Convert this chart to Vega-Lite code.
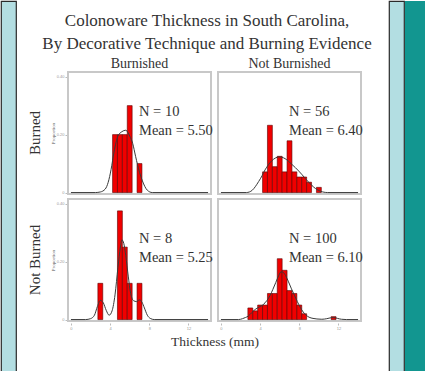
{
  "$schema": "https://vega.github.io/schema/vega-lite/v6.json",
  "background": "white",
  "padding": 0,
  "spacing": 16,
  "hconcat": [
    {
      "spacing": 11,
      "hconcat": [
        {
          "width": 15, "height": 371,
          "data": {"values": []},
          "mark": {"type": "text"},
          "encoding": {},
          "view": {"fill": "#b3dee2", "stroke": "#2a2a2a", "strokeWidth": 1.2}
        },
        {
          "spacing": 5,
          "vconcat": [
            {
              "width": 278, "height": 30,
              "data": {"values": [{"t": "Colonoware Thickness in South Carolina,\nBy Decorative Technique and Burning Evidence"}]},
              "mark": {"type": "text", "font": "Liberation Serif", "fontSize": 17, "color": "#333333",
                       "lineHeight": 23, "lineBreak": "\n", "align": "center", "baseline": "middle", "dy": 5},
              "encoding": {"text": {"field": "t", "type": "nominal"}},
              "view": {"stroke": null}
            },
            {
              "data": {"values": [
                {"r": "Burned", "c": "Burnished", "k": "bar", "lo": 4.25, "hi": 4.75, "p": 0.2},
                {"r": "Burned", "c": "Burnished", "k": "bar", "lo": 4.75, "hi": 5.25, "p": 0.2},
                {"r": "Burned", "c": "Burnished", "k": "bar", "lo": 5.25, "hi": 5.75, "p": 0.2},
                {"r": "Burned", "c": "Burnished", "k": "bar", "lo": 5.75, "hi": 6.25, "p": 0.3},
                {"r": "Burned", "c": "Burnished", "k": "bar", "lo": 6.75, "hi": 7.25, "p": 0.1},

                {"r": "Burned", "c": "Not Burnished", "k": "bar", "lo": 4.25, "hi": 4.75, "p": 0.0714},
                {"r": "Burned", "c": "Not Burnished", "k": "bar", "lo": 4.75, "hi": 5.25, "p": 0.2321},
                {"r": "Burned", "c": "Not Burnished", "k": "bar", "lo": 5.25, "hi": 5.75, "p": 0.0893},
                {"r": "Burned", "c": "Not Burnished", "k": "bar", "lo": 5.75, "hi": 6.25, "p": 0.125},
                {"r": "Burned", "c": "Not Burnished", "k": "bar", "lo": 6.25, "hi": 6.75, "p": 0.0714},
                {"r": "Burned", "c": "Not Burnished", "k": "bar", "lo": 6.75, "hi": 7.25, "p": 0.1786},
                {"r": "Burned", "c": "Not Burnished", "k": "bar", "lo": 7.25, "hi": 7.75, "p": 0.0714},
                {"r": "Burned", "c": "Not Burnished", "k": "bar", "lo": 7.75, "hi": 8.25, "p": 0.0536},
                {"r": "Burned", "c": "Not Burnished", "k": "bar", "lo": 8.25, "hi": 8.75, "p": 0.0536},
                {"r": "Burned", "c": "Not Burnished", "k": "bar", "lo": 8.75, "hi": 9.25, "p": 0.0357},
                {"r": "Burned", "c": "Not Burnished", "k": "bar", "lo": 9.75, "hi": 10.25, "p": 0.0179},

                {"r": "Not Burned", "c": "Burnished", "k": "bar", "lo": 2.75, "hi": 3.25, "p": 0.125},
                {"r": "Not Burned", "c": "Burnished", "k": "bar", "lo": 4.75, "hi": 5.25, "p": 0.375},
                {"r": "Not Burned", "c": "Burnished", "k": "bar", "lo": 5.25, "hi": 5.75, "p": 0.25},
                {"r": "Not Burned", "c": "Burnished", "k": "bar", "lo": 5.75, "hi": 6.25, "p": 0.125},
                {"r": "Not Burned", "c": "Burnished", "k": "bar", "lo": 6.75, "hi": 7.25, "p": 0.125},

                {"r": "Not Burned", "c": "Not Burnished", "k": "bar", "lo": 2.75, "hi": 3.25, "p": 0.04},
                {"r": "Not Burned", "c": "Not Burnished", "k": "bar", "lo": 3.25, "hi": 3.75, "p": 0.03},
                {"r": "Not Burned", "c": "Not Burnished", "k": "bar", "lo": 3.75, "hi": 4.25, "p": 0.05},
                {"r": "Not Burned", "c": "Not Burnished", "k": "bar", "lo": 4.25, "hi": 4.75, "p": 0.05},
                {"r": "Not Burned", "c": "Not Burnished", "k": "bar", "lo": 4.75, "hi": 5.25, "p": 0.09},
                {"r": "Not Burned", "c": "Not Burnished", "k": "bar", "lo": 5.25, "hi": 5.75, "p": 0.09},
                {"r": "Not Burned", "c": "Not Burnished", "k": "bar", "lo": 5.75, "hi": 6.25, "p": 0.21},
                {"r": "Not Burned", "c": "Not Burnished", "k": "bar", "lo": 6.25, "hi": 6.75, "p": 0.17},
                {"r": "Not Burned", "c": "Not Burnished", "k": "bar", "lo": 6.75, "hi": 7.25, "p": 0.10},
                {"r": "Not Burned", "c": "Not Burnished", "k": "bar", "lo": 7.25, "hi": 7.75, "p": 0.09},
                {"r": "Not Burned", "c": "Not Burnished", "k": "bar", "lo": 7.75, "hi": 8.25, "p": 0.05},
                {"r": "Not Burned", "c": "Not Burnished", "k": "bar", "lo": 8.25, "hi": 8.75, "p": 0.02},
                {"r": "Not Burned", "c": "Not Burnished", "k": "bar", "lo": 11.25, "hi": 11.75, "p": 0.01},

                {"r": "Burned", "c": "Burnished", "k": "curve", "lo": 0, "p": 0},
                {"r": "Burned", "c": "Burnished", "k": "curve", "lo": 2.5, "p": 0},
                {"r": "Burned", "c": "Burnished", "k": "curve", "lo": 3.0, "p": 0.002},
                {"r": "Burned", "c": "Burnished", "k": "curve", "lo": 3.5, "p": 0.012},
                {"r": "Burned", "c": "Burnished", "k": "curve", "lo": 3.8, "p": 0.035},
                {"r": "Burned", "c": "Burnished", "k": "curve", "lo": 4.1, "p": 0.08},
                {"r": "Burned", "c": "Burnished", "k": "curve", "lo": 4.4, "p": 0.14},
                {"r": "Burned", "c": "Burnished", "k": "curve", "lo": 4.8, "p": 0.195},
                {"r": "Burned", "c": "Burnished", "k": "curve", "lo": 5.2, "p": 0.21},
                {"r": "Burned", "c": "Burnished", "k": "curve", "lo": 5.6, "p": 0.215},
                {"r": "Burned", "c": "Burnished", "k": "curve", "lo": 6.0, "p": 0.195},
                {"r": "Burned", "c": "Burnished", "k": "curve", "lo": 6.3, "p": 0.17},
                {"r": "Burned", "c": "Burnished", "k": "curve", "lo": 6.6, "p": 0.125},
                {"r": "Burned", "c": "Burnished", "k": "curve", "lo": 7.0, "p": 0.07},
                {"r": "Burned", "c": "Burnished", "k": "curve", "lo": 7.3, "p": 0.04},
                {"r": "Burned", "c": "Burnished", "k": "curve", "lo": 7.8, "p": 0.008},
                {"r": "Burned", "c": "Burnished", "k": "curve", "lo": 8.3, "p": 0},
                {"r": "Burned", "c": "Burnished", "k": "curve", "lo": 14, "p": 0},

                {"r": "Burned", "c": "Not Burnished", "k": "curve", "lo": 0, "p": 0},
                {"r": "Burned", "c": "Not Burnished", "k": "curve", "lo": 2.6, "p": 0},
                {"r": "Burned", "c": "Not Burnished", "k": "curve", "lo": 2.9, "p": 0.002},
                {"r": "Burned", "c": "Not Burnished", "k": "curve", "lo": 3.2, "p": 0.008},
                {"r": "Burned", "c": "Not Burnished", "k": "curve", "lo": 3.5, "p": 0.02},
                {"r": "Burned", "c": "Not Burnished", "k": "curve", "lo": 3.85, "p": 0.038},
                {"r": "Burned", "c": "Not Burnished", "k": "curve", "lo": 4.2, "p": 0.058},
                {"r": "Burned", "c": "Not Burnished", "k": "curve", "lo": 4.5, "p": 0.078},
                {"r": "Burned", "c": "Not Burnished", "k": "curve", "lo": 4.85, "p": 0.096},
                {"r": "Burned", "c": "Not Burnished", "k": "curve", "lo": 5.2, "p": 0.11},
                {"r": "Burned", "c": "Not Burnished", "k": "curve", "lo": 5.55, "p": 0.119},
                {"r": "Burned", "c": "Not Burnished", "k": "curve", "lo": 5.9, "p": 0.123},
                {"r": "Burned", "c": "Not Burnished", "k": "curve", "lo": 6.2, "p": 0.122},
                {"r": "Burned", "c": "Not Burnished", "k": "curve", "lo": 6.55, "p": 0.117},
                {"r": "Burned", "c": "Not Burnished", "k": "curve", "lo": 6.9, "p": 0.108},
                {"r": "Burned", "c": "Not Burnished", "k": "curve", "lo": 7.25, "p": 0.097},
                {"r": "Burned", "c": "Not Burnished", "k": "curve", "lo": 7.6, "p": 0.086},
                {"r": "Burned", "c": "Not Burnished", "k": "curve", "lo": 7.95, "p": 0.074},
                {"r": "Burned", "c": "Not Burnished", "k": "curve", "lo": 8.3, "p": 0.061},
                {"r": "Burned", "c": "Not Burnished", "k": "curve", "lo": 8.6, "p": 0.049},
                {"r": "Burned", "c": "Not Burnished", "k": "curve", "lo": 8.95, "p": 0.036},
                {"r": "Burned", "c": "Not Burnished", "k": "curve", "lo": 9.3, "p": 0.024},
                {"r": "Burned", "c": "Not Burnished", "k": "curve", "lo": 9.65, "p": 0.014},
                {"r": "Burned", "c": "Not Burnished", "k": "curve", "lo": 10.0, "p": 0.007},
                {"r": "Burned", "c": "Not Burnished", "k": "curve", "lo": 10.4, "p": 0.002},
                {"r": "Burned", "c": "Not Burnished", "k": "curve", "lo": 10.9, "p": 0},
                {"r": "Burned", "c": "Not Burnished", "k": "curve", "lo": 14, "p": 0},

                {"r": "Not Burned", "c": "Burnished", "k": "curve", "lo": 0, "p": 0},
                {"r": "Not Burned", "c": "Burnished", "k": "curve", "lo": 1.5, "p": 0},
                {"r": "Not Burned", "c": "Burnished", "k": "curve", "lo": 2.0, "p": 0.003},
                {"r": "Not Burned", "c": "Burnished", "k": "curve", "lo": 2.4, "p": 0.015},
                {"r": "Not Burned", "c": "Burnished", "k": "curve", "lo": 2.7, "p": 0.045},
                {"r": "Not Burned", "c": "Burnished", "k": "curve", "lo": 3.0, "p": 0.066},
                {"r": "Not Burned", "c": "Burnished", "k": "curve", "lo": 3.3, "p": 0.058},
                {"r": "Not Burned", "c": "Burnished", "k": "curve", "lo": 3.6, "p": 0.032},
                {"r": "Not Burned", "c": "Burnished", "k": "curve", "lo": 3.9, "p": 0.015},
                {"r": "Not Burned", "c": "Burnished", "k": "curve", "lo": 4.2, "p": 0.03},
                {"r": "Not Burned", "c": "Burnished", "k": "curve", "lo": 4.5, "p": 0.085},
                {"r": "Not Burned", "c": "Burnished", "k": "curve", "lo": 4.8, "p": 0.18},
                {"r": "Not Burned", "c": "Burnished", "k": "curve", "lo": 5.05, "p": 0.25},
                {"r": "Not Burned", "c": "Burnished", "k": "curve", "lo": 5.2, "p": 0.275},
                {"r": "Not Burned", "c": "Burnished", "k": "curve", "lo": 5.4, "p": 0.262},
                {"r": "Not Burned", "c": "Burnished", "k": "curve", "lo": 5.6, "p": 0.22},
                {"r": "Not Burned", "c": "Burnished", "k": "curve", "lo": 5.85, "p": 0.15},
                {"r": "Not Burned", "c": "Burnished", "k": "curve", "lo": 6.1, "p": 0.09},
                {"r": "Not Burned", "c": "Burnished", "k": "curve", "lo": 6.4, "p": 0.065},
                {"r": "Not Burned", "c": "Burnished", "k": "curve", "lo": 6.7, "p": 0.062},
                {"r": "Not Burned", "c": "Burnished", "k": "curve", "lo": 7.0, "p": 0.068},
                {"r": "Not Burned", "c": "Burnished", "k": "curve", "lo": 7.25, "p": 0.06},
                {"r": "Not Burned", "c": "Burnished", "k": "curve", "lo": 7.5, "p": 0.04},
                {"r": "Not Burned", "c": "Burnished", "k": "curve", "lo": 7.8, "p": 0.015},
                {"r": "Not Burned", "c": "Burnished", "k": "curve", "lo": 8.1, "p": 0.004},
                {"r": "Not Burned", "c": "Burnished", "k": "curve", "lo": 8.5, "p": 0},
                {"r": "Not Burned", "c": "Burnished", "k": "curve", "lo": 14, "p": 0},

                {"r": "Not Burned", "c": "Not Burnished", "k": "curve", "lo": 0, "p": 0},
                {"r": "Not Burned", "c": "Not Burnished", "k": "curve", "lo": 1.8, "p": 0},
                {"r": "Not Burned", "c": "Not Burnished", "k": "curve", "lo": 2.2, "p": 0.003},
                {"r": "Not Burned", "c": "Not Burnished", "k": "curve", "lo": 2.5, "p": 0.007},
                {"r": "Not Burned", "c": "Not Burnished", "k": "curve", "lo": 2.8, "p": 0.012},
                {"r": "Not Burned", "c": "Not Burnished", "k": "curve", "lo": 3.15, "p": 0.024},
                {"r": "Not Burned", "c": "Not Burnished", "k": "curve", "lo": 3.5, "p": 0.035},
                {"r": "Not Burned", "c": "Not Burnished", "k": "curve", "lo": 3.9, "p": 0.043},
                {"r": "Not Burned", "c": "Not Burnished", "k": "curve", "lo": 4.3, "p": 0.051},
                {"r": "Not Burned", "c": "Not Burnished", "k": "curve", "lo": 4.7, "p": 0.066},
                {"r": "Not Burned", "c": "Not Burnished", "k": "curve", "lo": 5.0, "p": 0.082},
                {"r": "Not Burned", "c": "Not Burnished", "k": "curve", "lo": 5.3, "p": 0.104},
                {"r": "Not Burned", "c": "Not Burnished", "k": "curve", "lo": 5.6, "p": 0.128},
                {"r": "Not Burned", "c": "Not Burnished", "k": "curve", "lo": 5.9, "p": 0.152},
                {"r": "Not Burned", "c": "Not Burnished", "k": "curve", "lo": 6.15, "p": 0.165},
                {"r": "Not Burned", "c": "Not Burnished", "k": "curve", "lo": 6.35, "p": 0.163},
                {"r": "Not Burned", "c": "Not Burnished", "k": "curve", "lo": 6.6, "p": 0.152},
                {"r": "Not Burned", "c": "Not Burnished", "k": "curve", "lo": 6.9, "p": 0.13},
                {"r": "Not Burned", "c": "Not Burnished", "k": "curve", "lo": 7.2, "p": 0.106},
                {"r": "Not Burned", "c": "Not Burnished", "k": "curve", "lo": 7.5, "p": 0.084},
                {"r": "Not Burned", "c": "Not Burnished", "k": "curve", "lo": 7.8, "p": 0.062},
                {"r": "Not Burned", "c": "Not Burnished", "k": "curve", "lo": 8.1, "p": 0.042},
                {"r": "Not Burned", "c": "Not Burnished", "k": "curve", "lo": 8.4, "p": 0.026},
                {"r": "Not Burned", "c": "Not Burnished", "k": "curve", "lo": 8.7, "p": 0.015},
                {"r": "Not Burned", "c": "Not Burnished", "k": "curve", "lo": 9.0, "p": 0.008},
                {"r": "Not Burned", "c": "Not Burnished", "k": "curve", "lo": 9.4, "p": 0.004},
                {"r": "Not Burned", "c": "Not Burnished", "k": "curve", "lo": 9.8, "p": 0.002},
                {"r": "Not Burned", "c": "Not Burnished", "k": "curve", "lo": 10.3, "p": 0.001},
                {"r": "Not Burned", "c": "Not Burnished", "k": "curve", "lo": 10.8, "p": 0.003},
                {"r": "Not Burned", "c": "Not Burnished", "k": "curve", "lo": 11.2, "p": 0.006},
                {"r": "Not Burned", "c": "Not Burnished", "k": "curve", "lo": 11.5, "p": 0.007},
                {"r": "Not Burned", "c": "Not Burnished", "k": "curve", "lo": 11.9, "p": 0.004},
                {"r": "Not Burned", "c": "Not Burnished", "k": "curve", "lo": 12.3, "p": 0.001},
                {"r": "Not Burned", "c": "Not Burnished", "k": "curve", "lo": 12.8, "p": 0},
                {"r": "Not Burned", "c": "Not Burnished", "k": "curve", "lo": 14, "p": 0},

                {"r": "Burned", "c": "Burnished", "k": "label", "lo": 6.95, "p": 0.278, "t": "N = 10"},
                {"r": "Burned", "c": "Burnished", "k": "label", "lo": 6.95, "p": 0.212, "t": "Mean = 5.50"},
                {"r": "Burned", "c": "Not Burnished", "k": "label", "lo": 6.95, "p": 0.278, "t": "N = 56"},
                {"r": "Burned", "c": "Not Burnished", "k": "label", "lo": 6.95, "p": 0.212, "t": "Mean = 6.40"},
                {"r": "Not Burned", "c": "Burnished", "k": "label", "lo": 6.95, "p": 0.278, "t": "N = 8"},
                {"r": "Not Burned", "c": "Burnished", "k": "label", "lo": 6.95, "p": 0.212, "t": "Mean = 5.25"},
                {"r": "Not Burned", "c": "Not Burnished", "k": "label", "lo": 6.95, "p": 0.278, "t": "N = 100"},
                {"r": "Not Burned", "c": "Not Burnished", "k": "label", "lo": 6.95, "p": 0.212, "t": "Mean = 6.10"}
              ]},
              "facet": {
                "row": {
                  "field": "r", "type": "nominal", "title": null,
                  "header": {
                    "labelAngle": -90, "labelOrient": "left", "labelFont": "Liberation Serif",
                    "labelFontSize": 15, "labelColor": "#333333", "labelPadding": 0
                  }
                },
                "column": {
                  "field": "c", "type": "nominal", "title": "Thickness (mm)",
                  "header": {
                    "labelOrient": "top", "labelFont": "Liberation Serif", "labelFontSize": 14,
                    "labelColor": "#333333", "labelPadding": 0,
                    "titleOrient": "bottom", "titleFont": "Liberation Serif", "titleFontSize": 13.5,
                    "titleFontWeight": "normal", "titleColor": "#333333", "titlePadding": -5
                  }
                }
              },
              "spacing": {"row": 2, "column": 3},
              "spec": {
                "width": 143,
                "height": 122,
                "layer": [
                  {
                    "transform": [{"filter": "datum.k == 'bar'"}],
                    "mark": {"type": "bar", "color": "#f00000", "stroke": "#5a0000", "strokeWidth": 0.6},
                    "encoding": {
                      "x": {"field": "lo", "type": "quantitative",
                            "scale": {"domain": [-0.3, 14.3], "nice": false, "zero": false},
                            "axis": {"values": [0,1,2,3,4,5,6,7,8,9,10,11,12,13,14], "title": null,
                                     "labelOverlap": false, "labelFlush": false}},
                      "x2": {"field": "hi"},
                      "y": {"field": "p", "type": "quantitative",
                            "scale": {"domain": [-0.005, 0.416], "nice": false, "zero": false},
                            "axis": {"values": [0, 0.05, 0.1, 0.15, 0.2, 0.25, 0.3, 0.35, 0.4], "title": "Proportion",
                                     "labelOverlap": false, "labelFlush": false,
                                     "labelExpr": "datum.value == 0 ? '0' : format(datum.value, '.2f')"}},
                      "y2": {"datum": 0}
                    }
                  },
                  {
                    "transform": [{"filter": "datum.k == 'curve'"}],
                    "mark": {"type": "line", "color": "#3a3a3a", "strokeWidth": 1, "interpolate": "monotone"},
                    "encoding": {
                      "x": {"field": "lo", "type": "quantitative"},
                      "y": {"field": "p", "type": "quantitative"}
                    }
                  },
                  {
                    "transform": [{"filter": "datum.k == 'label'"}],
                    "mark": {"type": "text", "align": "left", "baseline": "middle", "font": "Liberation Serif",
                             "fontSize": 14.5, "color": "#333333"},
                    "encoding": {
                      "x": {"field": "lo", "type": "quantitative"},
                      "y": {"field": "p", "type": "quantitative"},
                      "text": {"field": "t"}
                    }
                  }
                ]
              }
            }
          ]
        }
      ]
    },
    {
      "spacing": 0,
      "hconcat": [
        {
          "width": 15, "height": 371,
          "data": {"values": []},
          "mark": {"type": "text"},
          "encoding": {},
          "view": {"fill": "#b3dee2", "stroke": "#2a2a2a", "strokeWidth": 1.2}
        },
        {
          "width": 22, "height": 371,
          "data": {"values": []},
          "mark": {"type": "text"},
          "encoding": {},
          "view": {"fill": "#129690", "stroke": null}
        }
      ]
    }
  ],
  "config": {
    "view": {"stroke": "#c8c8c8", "strokeWidth": 2},
    "axis": {
      "grid": false, "domain": false, "labelFontSize": 4, "labelColor": "#999999",
      "labelOverlap": false, "labelFlush": false,
      "tickColor": "#bbbbbb", "tickSize": 2, "labelPadding": 1,
      "titleFont": "Liberation Serif", "titleFontSize": 5, "titleFontWeight": "normal",
      "titleColor": "#555555", "titlePadding": 1
    },
    "axisX": {"labelAngle": 0}
  }
}
